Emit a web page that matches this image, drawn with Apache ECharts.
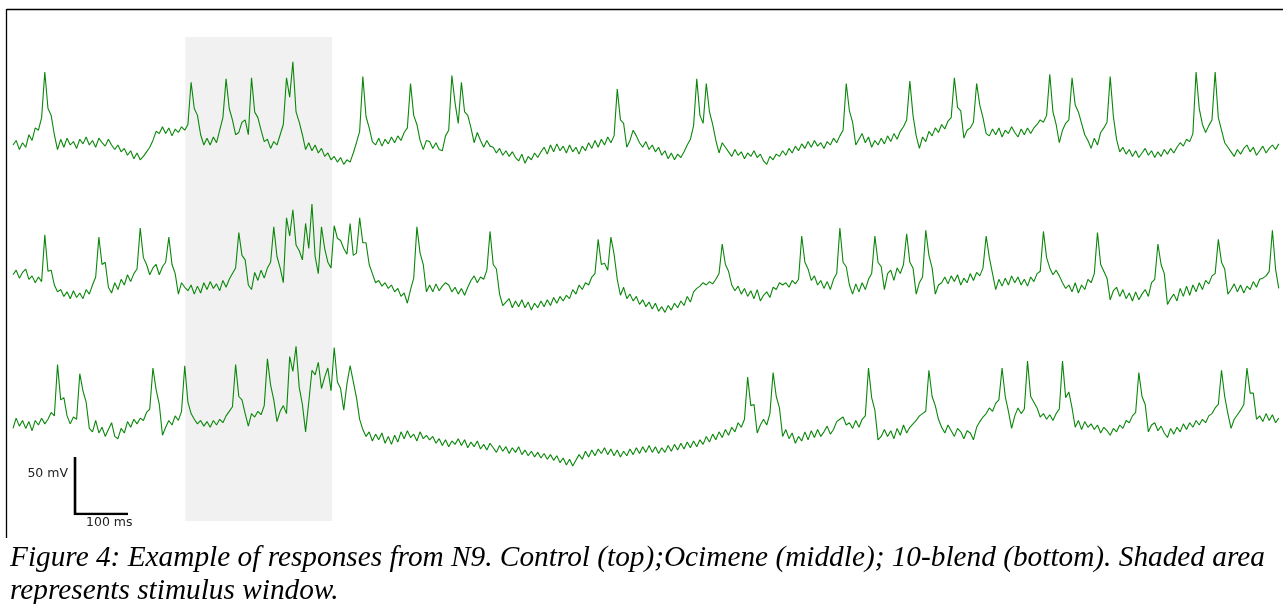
<!DOCTYPE html>
<html><head><meta charset="utf-8">
<script src="https://cdn.jsdelivr.net/npm/echarts@6/dist/echarts.min.js"></script>
<style>html,body{margin:0;padding:0;background:#fff;}#chart{width:1283px;height:604px;}</style>
</head><body><div id="chart"></div>
<script>
// sampling interval of the traces (ms)
const SAMPLE_MS = 6;
// membrane potential (mV), one value per sample
const controlMv = [
-60,-56,-64,-58,-62,-51,-56,-45,-47,-36,
4,-28,-34,-51,-64,
-55,-62,-54,-60,-57,-63,-55,-59,-53,-60,-56,-62,-54,-58,-61,-55,-60,
-64,-60,-66,-63,-69,-65,-72,-67,-73,
-70,-66,-62,-56,-48,
-50,-44,-50,-45,-52,-46,-49,-44,
-47,-42,
-5,-28,-34,-51,-60,
-54,-60,-53,-58,
-47,-36,-2,
-28,-38,-51,-49,-40,-38,-51,-1,-31,-36,-47,-57,-55,-63,-57,-60,-51,-42,-1,-18,13,-31,-40,-51,-64,
-58,-65,-60,-67,-63,-70,-67,-73,
-70,-75,-71,-77,-73,-75,-67,
-58,-48,0,-35,-45,-57,
-60,-54,-61,-55,-59,-53,-58,-52,-56,
-49,-45,-6,-34,-42,-56,-64,-56,
-57,-63,-58,-64,-65,-52,-47,
1,-23,-41,-5,-31,-34,-45,-58,-49,-56,-62,-56,-61,
-62,-67,-63,-69,-65,-70,-66,-71,-74,-68,-76,-70,-73,-67,-71,-66,
-62,-68,-60,-66,-59,-65,-61,-67,-60,-66,-62,-68,-61,-65,
-58,-63,-56,-62,-55,-60,-53,-58,
-52,-11,-38,-41,-62,-56,-47,-52,-58,
-62,-57,-64,-60,-66,-62,-69,-65,-72,-67,-73,-68,-71,
-66,-60,-55,-43,
-2,-34,-41,-6,-31,-42,-56,-67,-58,
-62,-66,-70,-64,-69,-66,-72,-67,-70,-65,-71,-68,-74,-77,-70,-73,-68,
-70,-65,-69,-63,-67,-61,-65,-59,-63,-57,-62,-56,-61,-58,-63,-57,-60,-54,-58,-52,
-47,-6,-30,-40,-60,
-55,-50,-58,-53,-62,-56,-60,-54,-59,-52,-57,-50,-55,-48,
-44,-38,-4,-34,-52,-63,
-53,-57,-48,-52,-45,-49,-42,-46,-39,-36,
-1,-27,-30,-54,-47,-45,-40,-6,-25,-36,-50,
-52,-46,-51,-45,-53,-47,-50,-44,-49,-53,-46,-51,-45,-50,-45,-42,-38,
-40,-34,2,-31,-42,-58,-47,-41,-38,-1,-25,-31,-41,-51,-56,-63,-54,-60,-49,-45,-40,0,-35,-55,-66,
-62,-68,-64,-70,-65,-71,-67,-63,-69,-65,-71,-66,-70,-64,-68,-63,-67,
-62,-58,-61,-55,-57,-50,
4,-28,-42,-49,-43,-38,4,-36,-47,-58,
-62,-66,-70,-64,-68,-63,-60,-66,-62,-69,-65,-61,-67,-63,-60,-64,-59
];
const ocimeneMv = [
-51,-47,-54,-49,-46,-55,-52,-58,-53,-57,
-16,-48,-47,-60,-66,
-64,-70,-66,-72,-65,-71,-67,-72,-64,-68,-60,
-53,-18,-42,-40,-62,-67,
-58,-64,-55,-60,-51,-57,-50,-46,-10,
-36,-42,-51,-45,-42,-51,-44,-40,-18,
-42,-50,-68,-58,-62,
-65,-60,-68,-61,-67,-58,-64,-57,-63,-59,-65,-56,-62,-55,-50,
-45,-14,-34,-38,-60,-64,-49,-56,-47,-54,-45,-40,-9,
-35,-45,-58,-1,-17,6,-25,-30,-38,-6,-28,11,-35,-50,-9,-28,-40,-45,-8,-19,-21,-28,-33,-6,-34,-32,-1,-23,-23,-42,-50,-58,
-56,-61,-58,-63,-60,-66,-63,-70,-67,-76,
-64,-54,-9,-32,-42,-66,
-60,-66,-59,-65,-61,-58,-60,-66,-62,-68,-63,-69,-62,-56,-52,
-58,-53,-55,-47,-13,
-42,-46,-68,-78,
-75,-72,-80,-74,-79,-73,-80,-75,-82,-76,-80,-74,-79,-73,-78,-71,-76,-70,-74,
-69,-72,-64,-68,-60,-64,-58,-60,-53,-50,-20,-42,-41,-47,-18,-33,-55,-69,
-62,-72,-68,-74,-70,-77,-73,-79,-75,-81,-76,-83,-79,-84,-78,-82,-76,-80,-74,
-78,-70,-75,-66,-63,-61,-58,-60,-57,-59,-55,-50,
-24,-42,-48,-60,-65,
-61,-68,-63,-70,-65,-72,-64,-74,-69,-66,-71,-62,-64,-58,-60,
-58,-62,-56,-59,-55,-17,
-40,-46,-56,-52,-60,-56,-63,-57,-64,-55,-50,-10,
-40,-44,-60,-68,
-59,-66,-58,-64,-55,-50,-17,-40,
-44,-64,-50,-47,-56,-45,-50,-42,-15,
-40,-45,-68,-58,-53,-12,
-34,-45,-68,-60,
-58,-53,-59,-52,-57,-51,-60,-54,-58,-50,-56,-49,-52,-45,
-17,-36,-50,-64,
-55,-61,-54,-60,-52,-58,-53,-60,-55,-61,-53,-57,-50,
-48,-13,-36,-45,-51,-47,-52,-58,-63,
-60,-66,-58,-67,-60,-64,-55,-58,-50,-14,
-42,-48,-54,-73,-65,
-62,-70,-64,-72,-67,-74,-66,-73,-68,-64,-70,-58,-55,
-24,-42,-50,-77,-72,
-68,-74,-63,-70,-61,-69,-60,-66,-58,-64,-56,-59,-52,
-50,-20,-40,-46,-68,
-64,-59,-66,-60,-67,-61,-64,-57,-62,-55,-54,
-52,-48,-12,-46,-63
];
const blendMv = [
-63,-54,-61,-56,-63,-57,-65,-56,-60,-54,-59,-55,-49,-52,
-7,-38,-36,-52,-59,-53,-55,-15,
-30,-40,-63,-66,
-56,-67,-62,-70,-64,-58,-70,-72,-63,-67,-57,-62,-55,-59,-54,-56,-49,-46,
-10,-29,-42,-69,-62,-56,-60,-52,-56,-48,
-8,-40,-50,-55,-59,-56,-61,-57,-62,-56,-60,-55,-58,-52,-48,-44,
-7,-35,-38,-50,-61,-50,-53,-48,-51,-43,-2,
-25,-38,-57,-48,-43,-50,0,
-13,9,-27,-42,-66,-40,-12,-16,-5,-28,-18,-10,-30,8,-22,-28,-47,-24,-8,-22,-36,-55,-64,
-70,-66,-74,-68,-73,-67,-76,-70,-77,-69,-75,-66,-72,-65,-71,-68,-74,-66,-72,-69,-73,
-70,-76,-72,-78,-73,-79,-74,-77,-72,-78,-73,-80,-75,-79,-74,-81,-77,-82,-76,-80,-84,-78,-83,-79,-85,-80,-84,-79,-86,
-82,-87,-83,-88,-84,-89,-85,-90,-86,-91,-87,-93,-89,-95,-90,-96,-91,-86,-90,-83,-88,-82,-87,-81,-85,
-80,-86,-81,-87,-82,-88,-83,-87,-81,-86,-80,-85,-79,-84,
-78,-84,-79,-85,-80,-84,-78,-83,-77,-82,-76,-81,-75,-80,-74,-79,-73,
-77,-70,-75,-68,-73,-66,-71,-64,-69,-62,
-66,-58,-62,-55,
-18,-43,-42,-67,-60,-55,-60,-50,-14,-35,-45,-70,-64,
-72,-67,-76,-70,-74,-66,-73,-65,-71,-64,-70,
-66,-61,-68,-64,-57,-55,-53,-60,
-58,-63,-56,-62,-55,-52,-10,-36,-47,-73,-70,
-64,-70,-65,-72,-63,-69,-60,-67,-62,-59,-56,-52,-50,-48,
-12,-35,-43,-55,
-62,-67,-60,-65,-70,-63,-66,-72,-65,-67,-73,-62,-57,-53,-50,-45,-48,-41,-38,
-10,-35,-48,-63,-52,-45,-50,-46,-4,
-35,-40,-45,-53,-50,-55,-51,-56,-50,-46,-4,
-36,-31,-45,-62,-56,
-64,-57,-62,-59,-64,-60,-67,-62,-65,-69,-63,-66,-60,-63,-56,-58,-52,-49,
-14,-35,-42,-66,-60,
-58,-65,-61,-67,-71,-63,-68,-62,-66,-59,-64,-58,-62,-56,-60,-55,-58,-52,-50,
-45,-42,-12,-35,-50,-63,-55,-51,-47,-42,-10,
-32,-32,-55,-52,-57,-50,-56,-51,-58,-54
];
// stimulus window (ms)
const stimulusWindow = [325, 602];
// scale bar: origin time (ms), length in ms and mV
const scaleBarStart = 117;
const scaleBarMs = 100;
const scaleBarMv = 50;
const scaleBarLabels = ['50 mV', '100 ms'];
const captionLines = [
  'Figure 4: Example of responses from N9. Control (top);Ocimene (middle); 10-blend (bottom). Shaded area',
  'represents stimulus window.'
];
const traces = [controlMv, ocimeneMv, blendMv];

const T_MAX = 2396;
const GRID_LEFT = 13, GRID_W = 1270;
const traceTops = [42.4, 182.4, 322.4];
const TRACE_H = 148.2; // 130 mV
const grids = [{left: GRID_LEFT, width: GRID_W, top: 37, height: 484}];
traceTops.forEach(t => grids.push({left: GRID_LEFT, width: GRID_W, top: t, height: TRACE_H}));
grids.push({left: GRID_LEFT, width: GRID_W, top: 457, height: 57});

const xAxes = grids.map((g, i) => ({type: 'value', gridIndex: i, min: 0, max: T_MAX, show: false}));
const yAxes = [
  {type: 'value', gridIndex: 0, min: 0, max: 1, show: false},
  {type: 'value', gridIndex: 1, min: -100, max: 30, show: false},
  {type: 'value', gridIndex: 2, min: -100, max: 30, show: false},
  {type: 'value', gridIndex: 3, min: -100, max: 30, show: false},
  {type: 'value', gridIndex: 4, min: 0, max: scaleBarMv, show: false}
];

const series = [{
  type: 'line', xAxisIndex: 0, yAxisIndex: 0, data: [], z: 0, silent: true,
  markArea: {silent: true, itemStyle: {color: '#f1f1f1'},
    data: [[{xAxis: stimulusWindow[0]}, {xAxis: stimulusWindow[1]}]]}
}];
traces.forEach((tr, k) => {
  series.push({
    type: 'line', xAxisIndex: k + 1, yAxisIndex: k + 1, z: 3,
    data: tr.map((v, i) => [i * SAMPLE_MS, v]),
    symbol: 'none', showSymbol: false, sampling: null,
    lineStyle: {color: '#0a870a', width: 1.1}
  });
});
series.push({
  type: 'line', xAxisIndex: 4, yAxisIndex: 4, z: 4, symbol: 'none',
  data: [[scaleBarStart, scaleBarMv], [scaleBarStart, 0], [scaleBarStart + scaleBarMs, 0]],
  lineStyle: {color: '#000', width: 2.6, join: 'miter'}
});

const chart = echarts.init(document.getElementById('chart'), null, {renderer: 'canvas'});
chart.setOption({
  animation: false,
  backgroundColor: '#fff',
  grid: grids, xAxis: xAxes, yAxis: yAxes, series: series,
  graphic: [
    {type: 'line', shape: {x1: 6.5, y1: 9.5, x2: 1283, y2: 9.5}, style: {stroke: '#000', lineWidth: 1.3}},
    {type: 'line', shape: {x1: 6.5, y1: 9, x2: 6.5, y2: 538}, style: {stroke: '#000', lineWidth: 1.3}},
    {type: 'text', x: 68, y: 474, style: {text: scaleBarLabels[0], fill: '#222', font: '12.5px "DejaVu Sans"', align: 'right', verticalAlign: 'middle'}},
    {type: 'text', x: 86, y: 523, style: {text: scaleBarLabels[1], fill: '#222', font: '12.5px "DejaVu Sans"', align: 'left', verticalAlign: 'middle'}},
    {type: 'text', x: 10, y: 544, style: {text: captionLines[0], fill: '#000', font: 'italic 29.3px "Liberation Serif"', align: 'left', verticalAlign: 'top'}},
    {type: 'text', x: 10, y: 577, style: {text: captionLines[1], fill: '#000', font: 'italic 29.3px "Liberation Serif"', align: 'left', verticalAlign: 'top'}}
  ]
});
</script></body></html>
